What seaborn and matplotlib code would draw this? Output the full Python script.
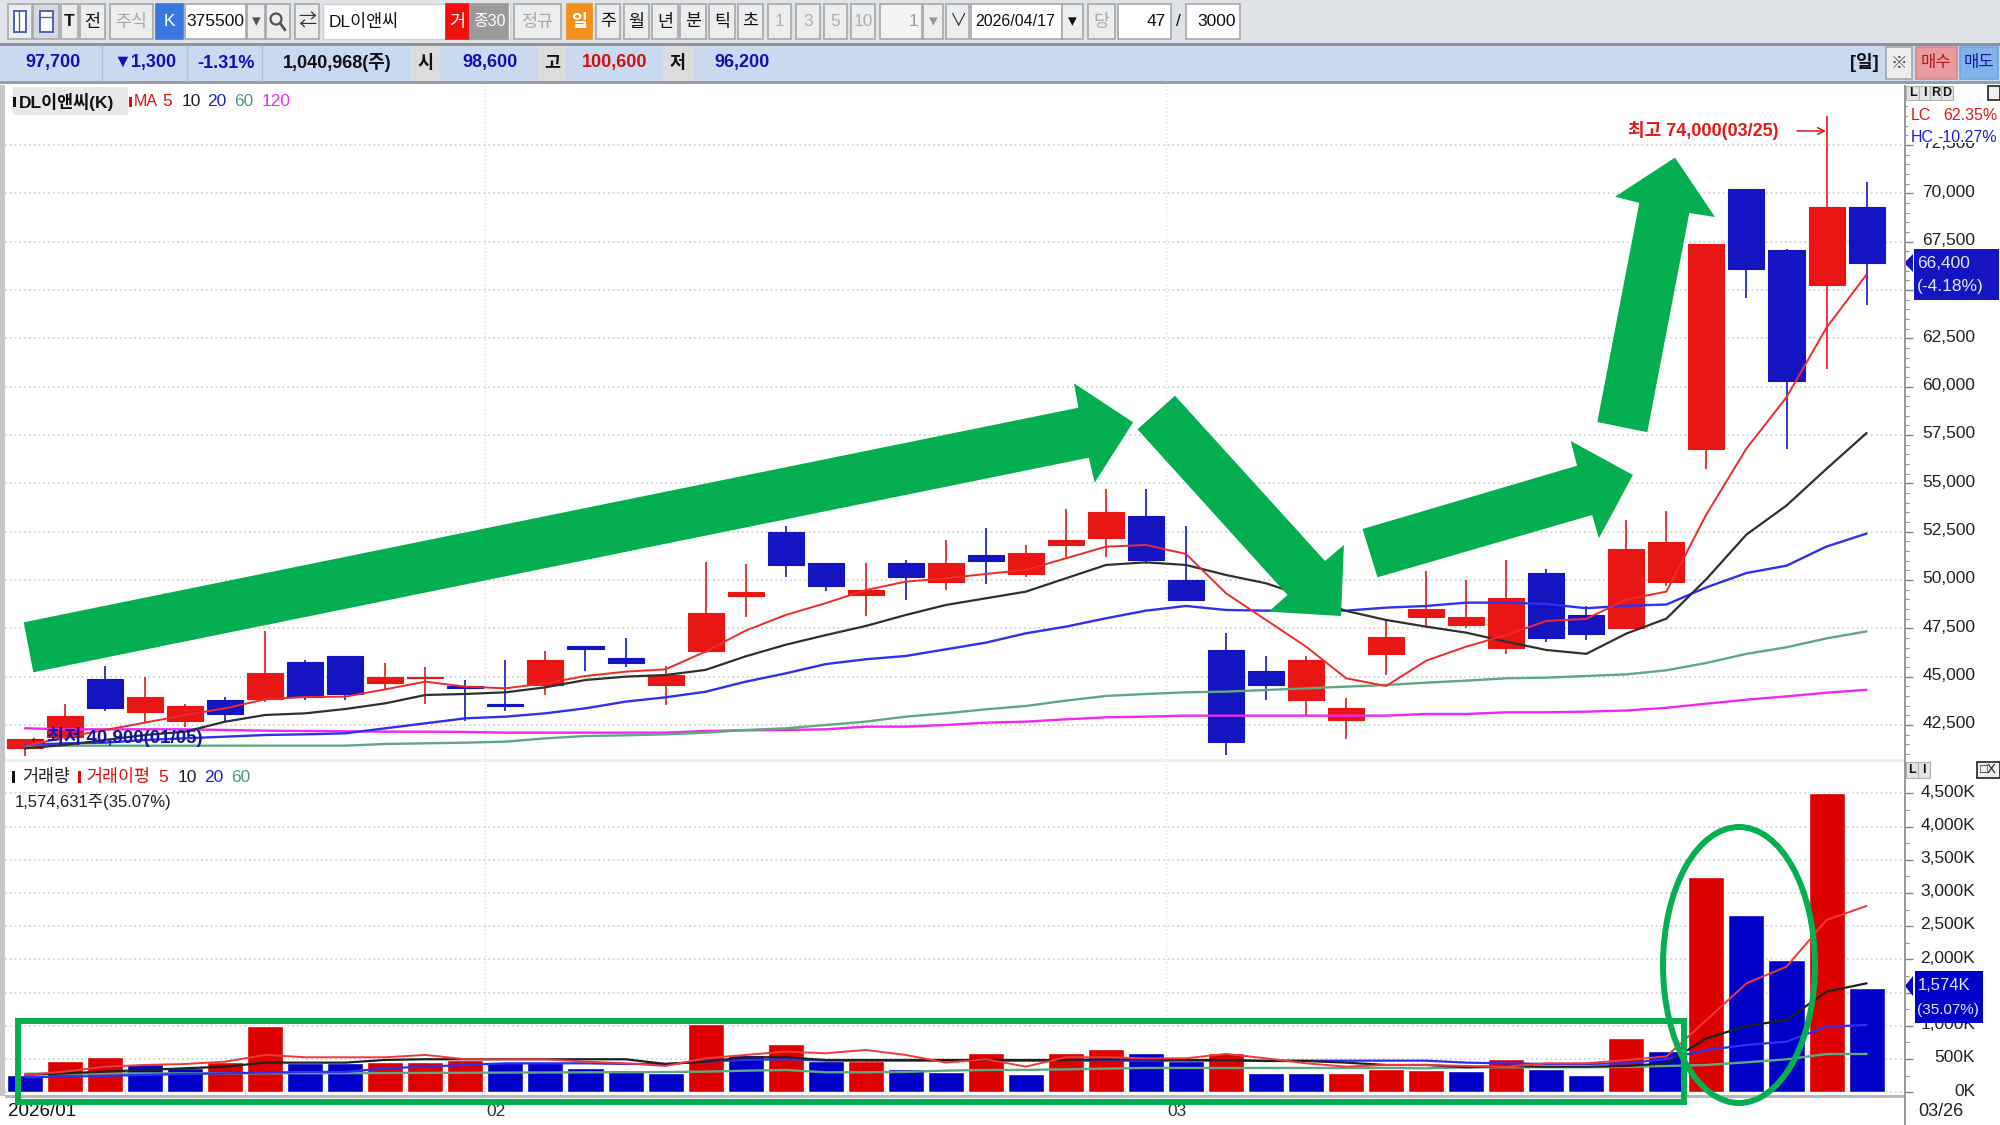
import matplotlib
matplotlib.use("Agg")
import matplotlib.pyplot as plt
from matplotlib.patches import Rectangle, Polygon, Ellipse, Circle
from matplotlib.transforms import ScaledTranslation
import numpy as np
import seaborn as sns

sns.set_theme(style="white")
FONT = ["Liberation Sans", "Noto Sans CJK KR", "DejaVu Sans"]
plt.rcParams["font.family"] = FONT

open_ = [41300,41900,44900,43150,42700,43800,43850,45750,46050,44650,44950,44500,43600,44550,46600,45950,44550,46350,49150,52500,
         50900,49200,50900,49900,51300,50300,51800,52150,53300,50000,46400,45300,43800,42750,46150,48100,47650,46500,50350,48200,
         47500,49900,56800,70200,67050,65250,69300]
high_ = [41800,43600,45550,45000,43600,43950,47350,45850,46050,45700,45500,44850,45850,46350,46600,47000,45550,50950,50850,52800,
         50900,50900,51050,52050,52700,51800,53650,54700,54700,52800,47250,46050,46050,43900,48000,50450,50000,51050,50550,48650,
         53100,53550,67400,70200,67100,74000,70600]
low_ =  [40900,41800,43250,42650,42400,42650,43700,43800,43800,44300,43600,42700,43250,44050,45300,45500,43550,46200,48100,50150,
         49450,48150,48950,49500,49800,50150,51200,51200,50850,48950,40950,43800,43000,41800,45100,47600,47500,46150,46800,46900,
         47500,49700,55750,64600,56800,60900,64200]
close_ =[41800,42950,43400,43950,43500,43050,45200,43950,44100,45000,45000,44400,43500,45850,46450,45700,45100,48300,49400,50800,
         49700,49500,50150,50900,51000,51400,52050,53500,51050,48950,41600,44550,45850,43400,47050,48500,48100,49050,47000,47200,
         51600,51950,67400,66100,60300,69300,66400]

ma5 = [41415,41863,42242,42622,43018,43363,43828,43949,43966,44346,44742,44483,44397,44656,45035,45259,45380,46300,47380,48190,
       48800,49480,49914,50087,50311,50518,51121,51724,51811,51345,49311,47932,46552,44915,44518,45828,46552,47156,47880,47990,
       48990,49400,53400,56800,59450,63050,65800]
ma10 = [41294,41467,41725,41984,42156,42673,43018,43104,43328,43621,44052,44104,44190,44449,44828,45001,45086,45350,46050,46650,
        47150,47620,48190,48707,49052,49397,50087,50776,50914,50776,50259,49828,49138,48400,47932,47587,47276,46811,46380,46180,
        47230,48000,50050,52350,53850,55750,57600]
ma20 = [41467,41553,41587,41725,41811,41897,41984,42018,42070,42329,42587,42846,42932,43104,43363,43708,43932,44220,44740,45170,
        45650,45900,46070,46414,46759,47242,47587,48018,48414,48656,48449,48414,48414,48414,48570,48656,48828,48828,48759,48540,
        48670,48730,49620,50360,50740,51730,52400]
ma60 = [41430,41430,41430,41430,41430,41432,41432,41432,41432,41518,41553,41587,41639,41811,41932,41967,42018,42105,42242,42329,
        42501,42673,42932,43104,43311,43484,43760,44001,44104,44191,44225,44311,44397,44484,44570,44690,44794,44915,44949,45035,
        45120,45330,45710,46180,46520,46980,47340]
ma120 = [42329,42277,42277,42277,42277,42242,42208,42190,42175,42156,42156,42140,42105,42105,42105,42105,42105,42191,42225,42242,
         42277,42415,42415,42501,42621,42673,42794,42898,42932,42984,42984,42984,42984,42984,42984,43070,43070,43156,43156,43190,
         43250,43390,43600,43810,43980,44170,44320]

volume = [260,477,537,426,361,451,1003,436,436,462,462,487,462,462,371,336,296,1028,562,727,
          476,471,346,306,587,276,587,647,587,471,587,286,286,286,346,336,326,501,346,261,
          812,622,3245,2668,1991,4500,1574]
vol_dir = list("BRRBBRRBBRRRBBBBBRBR" "BRBBRBRRBBRBBRRRBRBB" "RBRBBRB")
vma5 = [261,311,386,411,426,461,562,527,527,527,562,497,497,497,461,436,396,512,562,612,
        587,637,562,446,496,386,527,527,511,511,577,511,436,386,411,411,396,386,436,436,
        486,540,1088,1640,1891,2593,2804]
vma10 = [261,286,311,336,361,386,446,446,446,487,497,497,497,497,497,497,426,461,527,527,
         486,486,486,486,486,486,486,496,496,486,486,471,471,446,411,411,376,396,386,386,
         396,436,812,998,1088,1515,1640]
vma20 = [226,236,246,261,275,286,296,306,306,361,386,411,436,436,436,426,426,461,487,497,
         476,476,476,476,476,476,476,476,476,476,476,476,476,476,476,476,446,436,426,426,
         436,500,637,712,762,988,1013]
vma60 = [280,280,282,284,285,286,286,286,288,290,292,294,296,298,300,302,305,311,325,336,
         301,301,306,326,336,336,346,356,366,366,366,366,366,366,366,361,376,376,376,376,
         381,396,411,451,496,576,576]

price_ticks = list(range(42500, 72501, 2500))
volume_ticks = list(range(0, 4501, 500))
month_marks = [11.5, 28.5]

days = np.arange(len(open_))
W, H = 2000, 1125
RED, BLUE = "#ea1515", "#1414c0"
GREEN = "#05ae50"


def rect(l, t, r, b):
    return [l / W, 1 - b / H, (r - l) / W, (b - t) / H]


fig = plt.figure(figsize=(20, 11.25), dpi=100, facecolor="white")
ax = fig.add_axes(rect(5, 85, 1905, 760))
axv = fig.add_axes(rect(5, 762, 1905, 1096))
ov = fig.add_axes([0, 0, 1, 1], zorder=20)
ov.set_xlim(0, W)
ov.set_ylim(H, 0)
ov.axis("off")
ov.patch.set_alpha(0)

# ---------- price panel
cols = [RED if c >= o else BLUE for o, c in zip(open_, close_)]
ax.vlines(days, low_, high_, colors=["#e63a3a" if c == RED else "#3838cc" for c in cols], lw=1.4, zorder=2)
ax.bar(days, np.abs(np.array(close_) - np.array(open_)), bottom=np.minimum(open_, close_),
       width=0.9, color=cols, edgecolor=cols, linewidth=0.8, zorder=3)
for vals, c, lw in [(ma120, "#f028f0", 1.7), (ma60, "#5fa882", 1.7), (ma20, "#3030f0", 1.7),
                    (ma10, "#303030", 1.6), (ma5, "#f02a2a", 1.4)]:
    sns.lineplot(x=days, y=vals, ax=ax, color=c, lw=lw, errorbar=None, zorder=4)

ax.set_xlim(-0.5, 46.96)
ax.set_ylim(40690, 75600)
ax.yaxis.tick_right()
ax.set_yticks(price_ticks)
ax.set_yticklabels([f"{t:,}" for t in price_ticks], ha="right")
ax.set_yticks(np.arange(41000, 75001, 500), minor=True)
ax.tick_params(axis="y", which="major", right=True, length=6, width=1, color="#808080",
               pad=44.5, labelsize=12.5, labelcolor="#222222")
ax.tick_params(axis="y", which="minor", right=True, length=3, width=0.8, color="#909090")
ax.set_xticks(month_marks)
ax.tick_params(axis="x", length=0, labelbottom=False)
ax.grid(False)
ax.grid(True, axis="y", which="major", color="#d4d4d4", ls=":", lw=1.3)
ax.grid(True, axis="x", which="major", color="#dddddd", ls=":", lw=1)
ax.set_axisbelow(True)
ax.set_xlabel("")
ax.set_ylabel("")
for s in ax.spines.values():
    s.set_visible(False)

# ---------- volume panel
vpal = {"R": "#dc0000", "B": "#0000c8"}
sns.barplot(x=days, y=volume, hue=vol_dir, palette=vpal, native_scale=True, width=0.9, dodge=False,
            legend=False, saturation=1, ax=axv, zorder=3)
for vals, c, lw in [(vma60, "#5fa882", 1.7), (vma20, "#3030f0", 1.6), (vma10, "#202020", 1.6), (vma5, "#f03a3a", 1.4)]:
    sns.lineplot(x=days, y=vals, ax=axv, color=c, lw=lw, errorbar=None, zorder=4)
axv.set_xlim(-0.5, 46.96)
axv.set_ylim(-56, 4971)
axv.yaxis.tick_right()
axv.set_yticks(volume_ticks)
axv.set_yticklabels([f"{t:,}K" for t in volume_ticks], ha="right")
axv.set_yticks(np.arange(0, 4751, 250), minor=True)
axv.tick_params(axis="y", which="major", right=True, length=6, width=1, color="#808080",
                pad=44.5, labelsize=12.5, labelcolor="#222222")
axv.tick_params(axis="y", which="minor", right=True, length=3, width=0.8, color="#909090")
axv.set_xticks(month_marks)
axv.tick_params(axis="x", length=0, labelbottom=False)
axv.grid(False)
axv.grid(True, axis="y", which="major", color="#d4d4d4", ls=":", lw=1.3)
axv.grid(True, axis="x", which="major", color="#dddddd", ls=":", lw=1)
axv.set_axisbelow(True)
axv.set_xlabel("")
axv.set_ylabel("")
for s in axv.spines.values():
    s.set_visible(False)

# axis labels sit a little above their grid lines in the reference
shift = ScaledTranslation(0, 2 / 72, fig.dpi_scale_trans)
for a in (ax, axv):
    for lab in a.get_yticklabels():
        lab.set_transform(lab.get_transform() + shift)


# ---------- overlay helpers (pixel coordinates of the screenshot)
def box(l, t, r, b, fc, ec="none", lw=0, z=1):
    ov.add_patch(Rectangle((l, t), r - l, b - t, fc=fc, ec=ec, lw=lw, zorder=z))


def txt(x, y, s, c="#111111", size=12.5, ha="center", weight="normal", z=6):
    ov.text(x, y, s, color=c, fontsize=size, ha=ha, va="center", fontweight=weight, zorder=z, family=FONT)


# top bars
box(0, 0, W, 43, "#dfe3e8")
box(0, 43, W, 46, "#8f9296")
box(0, 46, W, 81, "#c9daf0")
box(0, 81, W, 84, "#9a9ea4")


def btn(l, r, label="", fc="#eceded", tc="#111111", ec="#a6a8ab", size=12.5, t=4, b=39, weight="normal"):
    box(l, t, r, b, fc, ec=ec, lw=1.2, z=2)
    if label:
        txt((l + r) / 2, (t + b) / 2, label, tc, size, weight=weight)


btn(8, 32)
box(14, 11, 26, 32, "#ffffff", ec="#4a64b0", lw=1.4, z=3)
ov.plot([19, 19], [11, 32], color="#4a64b0", lw=1, zorder=4)
btn(33, 59, fc="#d5d9de")
box(40, 11, 53, 32, "#ffffff", ec="#4a64b0", lw=1.4, z=3)
ov.plot([40, 53], [17, 17], color="#4a64b0", lw=1, zorder=4)
btn(61, 78, "T", weight="bold")
btn(80, 105, "전")
btn(110, 153, "주식", tc="#a8a8a8")
btn(156, 183, "K", fc="#3a78e0", tc="white", ec="#3a78e0")
btn(185, 246, "375500", fc="white")
btn(247, 265, "▾", tc="#555555")
btn(266, 290)
ov.add_patch(Circle((276, 19), 5.5, fc="none", ec="#555555", lw=1.6, zorder=4))
ov.plot([280, 285], [23, 30], color="#555555", lw=2, zorder=4)
btn(295, 319, "⇄", tc="#333333", size=13)
box(323, 4, 510, 39, "white", ec="#d0d0d0", lw=1, z=2)
txt(329, 22, "DL이앤씨", ha="left")
btn(446, 469, "거", fc="#f01010", tc="white", ec="#f01010")
btn(470, 508, "종30", fc="#9a9a9a", tc="white", ec="#9a9a9a", size=11.5)
btn(514, 561, "정규", tc="#a8a8a8")
btn(567, 592, "일", fc="#f39020", tc="white", ec="#f39020", weight="bold")
for l, r, s in [(596, 620, "주"), (624, 649, "월"), (652, 678, "년"), (680, 706, "분"), (709, 735, "틱"), (738, 763, "초")]:
    btn(l, r, s)
for l, r, s in [(768, 791, "1"), (796, 820, "3"), (824, 847, "5"), (851, 875, "10")]:
    btn(l, r, s, tc="#b0b0b0")
btn(880, 922, "", fc="#f4f4f4")
txt(918, 22, "1", "#999999", ha="right")
btn(923, 943, "▾", tc="#999999")
btn(946, 969, "∨", tc="#333333")
box(971, 4, 1062, 39, "white", ec="#a6a8ab", lw=1.2, z=2)
txt(975, 22, "2026/04/17", ha="left", size=11.5)
btn(1062, 1083, "▾", tc="#111111")
btn(1088, 1115, "당", tc="#a8a8a8")
box(1118, 4, 1171, 39, "white", ec="#a6a8ab", lw=1.2, z=2)
txt(1166, 22, "47", ha="right")
txt(1178, 22, "/")
box(1186, 4, 1240, 39, "white", ec="#a6a8ab", lw=1.2, z=2)
txt(1236, 22, "3000", ha="right")

# quote bar
for x in (102, 187, 262):
    ov.plot([x, x], [46, 81], color="#b4c2d4", lw=1, zorder=2)
for l, r, s in [(411, 440, "시"), (538, 566, "고"), (663, 693, "저")]:
    box(l, 46, r, 81, "#dcdcdc", z=2)
    txt((l + r) / 2, 63, s, weight="bold")
NAVY, QRED = "#1010b8", "#d01010"
txt(53, 63, "97,700", NAVY, 13, weight="bold")
txt(145, 63, "▼1,300", NAVY, 13, weight="bold")
txt(226, 63, "-1.31%", NAVY, 13, weight="bold")
txt(337, 63, "1,040,968(주)", "#111111", 13, weight="bold")
txt(490, 63, "98,600", NAVY, 13, weight="bold")
txt(615, 63, "100,600", QRED, 13, weight="bold")
txt(742, 63, "96,200", NAVY, 13, weight="bold")
txt(1864, 63, "[일]", "#111111", 13, weight="bold")
btn(1886, 1912, "※", size=12, t=47, b=79, tc="#444444")
btn(1916, 1957, "매수", fc="#e99ba0", tc="#b01818", ec="#d08a90", t=47, b=79, size=12)
btn(1960, 1998, "매도", fc="#82b4ec", tc="#1818a8", ec="#72a4dc", t=47, b=79, size=12)

# panel frame
box(0, 85, 5, 1096, "#c4c6ca", z=1)
box(5, 759, 1905, 762, "#f0f0f0", z=1)
box(5, 1095, 1905, 1098, "#b6b8bd", z=1)
box(1904, 85, 1906, 1125, "#9a9a9e", z=7)

# price-panel legend
box(13, 87, 128, 115, "#e8e8e8", z=2)
box(13, 97, 16, 107, "#111111", z=3)
txt(19, 102, "DL이앤씨(K)", "#111111", 12.5, ha="left", weight="bold")
box(129, 97, 132, 107, "#e01010", z=3)
txt(146, 102, "MA", "#e01010", 11.5)
for x, s, c in [(167, "5", "#e01010"), (191, "10", "#222222"), (217, "20", "#2020d0"), (244, "60", "#4f9c76"), (276, "120", "#f028f0")]:
    txt(x, 102, s, c, 12.5)

# volume legend
box(12, 771, 15, 783, "#111111", z=3)
txt(46, 777, "거래량", "#222222", 12.5)
box(78, 771, 81, 783, "#e01010", z=3)
txt(118, 777, "거래이평", "#e01010", 12.5)
for x, s, c in [(163, "5", "#e01010"), (187, "10", "#222222"), (214, "20", "#2020d0"), (241, "60", "#4f9c76")]:
    txt(x, 777, s, c, 12.5)
txt(15, 802, "1,574,631주(35.07%)", "#222222", 12, ha="left")

# high / low marks
txt(1628, 130, "최고 74,000(03/25)", "#e01818", 13, ha="left", weight="bold")
ov.annotate("", xy=(1826, 131), xytext=(1797, 131), zorder=6,
            arrowprops=dict(arrowstyle="->", color="#e01818", lw=1.1, shrinkA=0, shrinkB=0))
txt(28, 737, "←최저 40,900(01/05)", "#1414a0", 13.5, ha="left", weight="bold")

# right column
box(1908, 85, 2000, 143, "white", z=3)
for l, r, s in [(1906, 1919, "L"), (1919, 1930, "I"), (1930, 1941, "R"), (1941, 1953, "D")]:
    box(l, 86, r, 100, "#e4e4e4", ec="#b0b0b0", lw=0.8, z=4)
    txt((l + r) / 2, 93, s, "#111111", 9, weight="bold")
box(1988, 86, 2000, 100, "#eeeeee", ec="#222222", lw=1.2, z=4)
txt(1911, 115, "LC", "#e01818", 11.5, ha="left")
txt(1997, 115, "62.35%", "#e01818", 11.5, ha="right")
txt(1911, 137, "HC", "#2020c8", 11.5, ha="left")
txt(1997, 137, "-10.27%", "#2020c8", 11.5, ha="right")

box(1914, 249, 1999, 300, BLUE, z=5)
ov.add_patch(Polygon([(1904, 263), (1913, 254), (1913, 272)], fc=BLUE, ec="none", zorder=5))
txt(1917, 263, "66,400", "#dfe6ff", 12.5, ha="left")
txt(1917, 287, "(-4.18%)", "#dfe6ff", 12.5, ha="left")

for l, r, s in [(1906, 1918, "L"), (1918, 1930, "I")]:
    box(l, 762, r, 778, "#e4e4e4", ec="#b0b0b0", lw=0.8, z=4)
    txt((l + r) / 2, 770, s, "#111111", 9, weight="bold")
box(1977, 762, 2000, 778, "#eeeeee", ec="#222222", lw=1.2, z=4)
txt(1988, 770, "□X", "#111111", 9.5)
box(1915, 971, 1983, 1023, "#0000c8", z=5)
ov.add_patch(Polygon([(1905, 986), (1913, 976), (1913, 996)], fc="#0000c8", ec="none", zorder=5))
txt(1918, 985, "1,574K", "#dfe6ff", 12, ha="left")
txt(1917, 1010, "(35.07%)", "#dfe6ff", 11, ha="left")

# date labels
txt(8, 1112, "2026/01", "#111111", 13.5, ha="left", z=3)
txt(486, 1112, "02", "#333333", 12.5, ha="left", z=3)
txt(1167, 1112, "03", "#333333", 12.5, ha="left", z=3)
txt(1918, 1112, "03/26", "#222222", 13, ha="left")

# green hand-drawn annotations
arrows = [
    [(23.7, 622.3), (33.3, 672.3), (1088.8, 457.7), (1094.7, 482.7), (1133.1, 422.3), (1074, 383.3), (1078.4, 407.7)],
    [(1137.5, 429.3), (1175, 395.7), (1325, 561), (1343.9, 545), (1341, 616), (1268.6, 611.7), (1287.5, 595)],
    [(1362.5, 529), (1377.5, 577.3), (1592.1, 515), (1598.9, 538.3), (1632.9, 475), (1570.7, 441), (1577.1, 465.7)],
    [(1597.3, 422), (1647.3, 432.2), (1689.3, 213), (1715, 217), (1675, 157.6), (1615, 196.7), (1639.3, 202.9)],
]
for pts in arrows:
    ov.add_patch(Polygon(pts, closed=True, fc=GREEN, ec="none", zorder=8))
ov.add_patch(Rectangle((18, 1021), 1666, 81, fc="none", ec=GREEN, lw=4.3, zorder=9))
ov.add_patch(Ellipse((1739, 965), 152, 276, fc="none", ec=GREEN, lw=4.3, zorder=9))

fig.savefig("out.png", dpi=100)
